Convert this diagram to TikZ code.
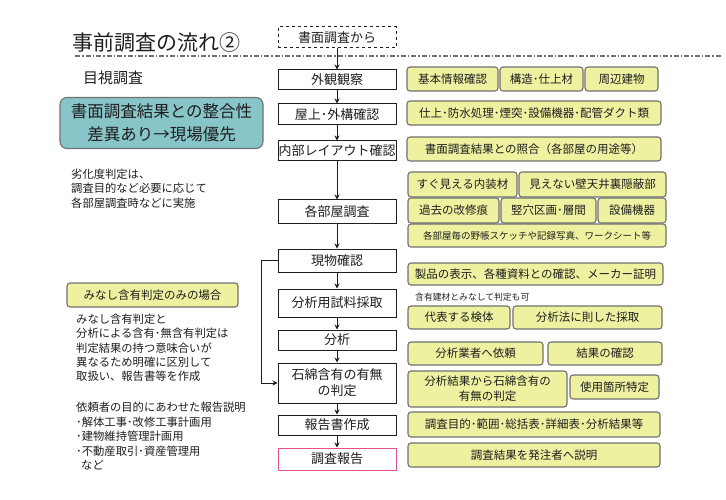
\documentclass[tikz,border=0pt]{standalone}
\usepackage{fontspec}
\setmainfont{Noto Sans CJK JP}
\usetikzlibrary{arrows.meta}
\definecolor{ink}{HTML}{1E1E1E}
\definecolor{straw}{HTML}{EEF1A0}
\definecolor{lagoon}{HTML}{88C5C9}
\definecolor{rim}{HTML}{707070}
\definecolor{rose}{HTML}{E4508C}

\begin{document}
\begin{tikzpicture}[x=1pt,y=-1pt,>={Stealth[length=5pt,width=5pt]},
  flow/.style={draw=ink,line width=1pt,minimum width=118pt,inner sep=0pt,
    align=center,text=ink,font=\fontsize{13}{16}\selectfont},
  tag/.style={draw=rim,fill=straw,rounded corners=3pt,line width=1.1pt,inner sep=0pt,
    align=center,text=ink,font=\fontsize{11.5}{15}\selectfont},
  memo/.style={anchor=base west,align=left,inner sep=0pt,text=ink,
    font=\fontsize{11.3}{14.4}\selectfont}]
  \useasboundingbox (0,0) rectangle (726,500);
  % heading
  \node[anchor=west,inner sep=0pt,text=ink,font=\fontsize{21}{24}\selectfont] (title) at (72,43) {事前調査の流れ②};
  \draw[rim,line width=1.2pt,dash pattern=on 5pt off 2pt on 1.5pt off 2pt] (75,56)--(722,56);
  \node[anchor=west,inner sep=0pt,text=ink,font=\fontsize{15}{18}\selectfont] (sub) at (83,77.5) {目視調査};

  % left side (memo nodes sit on the baseline of their last line)
  \node[draw=rim,fill=lagoon,rounded corners=7pt,line width=1.1pt,minimum width=203pt,minimum height=51pt,
    align=center,text=ink,font=\fontsize{16.5}{23}\selectfont] (check) at (161.5,123) {書面調査結果との整合性\\差異あり→現場優先};
  \node[memo] (deg) at (71,207.3) {劣化度判定は、\\調査目的など必要に応じて\\各部屋調査時などに実施};
  \node[tag,minimum width=171pt,minimum height=24pt] (only) at (152.5,295) {みなし含有判定のみの場合};
  \node[memo,font=\fontsize{11.3}{14.2}\selectfont] (diff) at (76,380.5) {みなし含有判定と\\分析による含有･無含有判定は\\判定結果の持つ意味合いが\\異なるため明確に区別して\\取扱い、報告書等を作成};
  \node[memo] (purp) at (76,469.5) {依頼者の目的にあわせた報告説明\\･解体工事･改修工事計画用\\･建物維持管理計画用\\･不動産取引･資産管理用\\\hspace*{5pt}など};

  % flow
  \node[flow,dashed,minimum height=21pt] (src) at (337,37.5) {書面調査から};
  \node[flow,minimum height=20pt] (b1) at (337,80) {外観観察};
  \node[flow,minimum height=21pt] (b2) at (337,114.5) {屋上･外構確認};
  \node[flow,minimum height=20pt] (b3) at (337,151) {内部レイアウト確認};
  \node[flow,minimum height=23pt] (b4) at (337,211.5) {各部屋調査};
  \node[flow,minimum height=23pt] (b5) at (337,260.5) {現物確認};
  \node[flow,minimum height=28pt] (b6) at (337,303) {分析用試料採取};
  \node[flow,minimum height=20pt] (b7) at (337,340) {分析};
  \node[flow,minimum height=40pt] (b8) at (337,383) {石綿含有の有無\\の判定};
  \node[flow,minimum height=20pt] (b9) at (337,425) {報告書作成};
  \node[flow,draw=rose,minimum height=22pt] (b10) at (337,459) {調査報告};
  \draw[->,ink,line width=1pt] (src)--(b1);
  \draw[->,ink,line width=1pt] (b1)--(b2);
  \draw[->,ink,line width=1pt] (b2)--(b3);
  \draw[->,ink,line width=1pt] (b3)--(b4);
  \draw[->,ink,line width=1pt] (b4)--(b5);
  \draw[->,ink,line width=1pt] (b5)--(b6);
  \draw[->,ink,line width=1pt] (b6)--(b7);
  \draw[->,ink,line width=1pt] (b7)--(b8);
  \draw[->,ink,line width=1pt] (b8)--(b9);
  \draw[->,ink,line width=1pt] (b9)--(b10);
  \draw[->,ink,line width=1pt] (b5.west)--++(-16,0) |- (b8.west);

  % right side
  \node[tag,minimum width=91pt,minimum height=24pt] (info) at (452.5,79) {基本情報確認};
  \node[tag,minimum width=83pt,minimum height=24pt] (mat) at (541.5,79) {構造･仕上材};
  \node[tag,minimum width=73pt,minimum height=24pt] (near) at (621.5,79) {周辺建物};
  \node[tag,minimum width=254pt,minimum height=24pt] (roof) at (534,113) {仕上･防水処理･煙突･設備機器･配管ダクト類};
  \node[tag,minimum width=254pt,minimum height=24pt] (match) at (534,149) {書面調査結果との照合（各部屋の用途等）};
  \node[tag,minimum width=109pt,minimum height=25pt] (seen) at (462.5,184.5) {すぐ見える内装材};
  \node[tag,minimum width=147pt,minimum height=25pt] (hid) at (592.5,184.5) {見えない壁天井裏隠蔽部};
  \node[tag,minimum width=91pt,minimum height=25pt] (trace) at (453.5,210.5) {過去の改修痕};
  \node[tag,minimum width=95pt,minimum height=25pt] (shaft) at (548.5,210.5) {竪穴区画･層間};
  \node[tag,minimum width=68pt,minimum height=25pt] (equip) at (632,210.5) {設備機器};
  \node[tag,minimum width=258pt,minimum height=23pt,font=\fontsize{9.5}{12}\selectfont] (sketch) at (537,235.5) {各部屋毎の野帳スケッチや記録写真、ワークシート等};
  \node[tag,minimum width=255pt,minimum height=22pt] (label) at (535.5,274) {製品の表示、各種資料との確認、メーカー証明};
  \node[anchor=west,inner sep=0pt,text=ink,font=\fontsize{8.8}{10}\selectfont] (deem) at (415,297) {含有建材とみなして判定も可};
  \node[tag,minimum width=102pt,minimum height=23pt] (rep) at (459,317.5) {代表する検体};
  \node[tag,minimum width=149pt,minimum height=23pt] (samp) at (587.5,317.5) {分析法に則した採取};
  \node[tag,minimum width=135pt,minimum height=23pt] (lab) at (475.5,353.5) {分析業者へ依頼};
  \node[tag,minimum width=114pt,minimum height=23pt] (res) at (605,353.5) {結果の確認};
  \node[tag,minimum width=159pt,minimum height=36pt] (judge) at (487.5,389) {分析結果から石綿含有の\\有無の判定};
  \node[tag,minimum width=89pt,minimum height=24pt] (spot) at (614.5,387) {使用箇所特定};
  \node[tag,minimum width=252pt,minimum height=25pt] (doc) at (534,424.5) {調査目的･範囲･総括表･詳細表･分析結果等};
  \node[tag,minimum width=252pt,minimum height=24pt] (tell) at (534,455) {調査結果を発注者へ説明};
\end{tikzpicture}
\end{document}
